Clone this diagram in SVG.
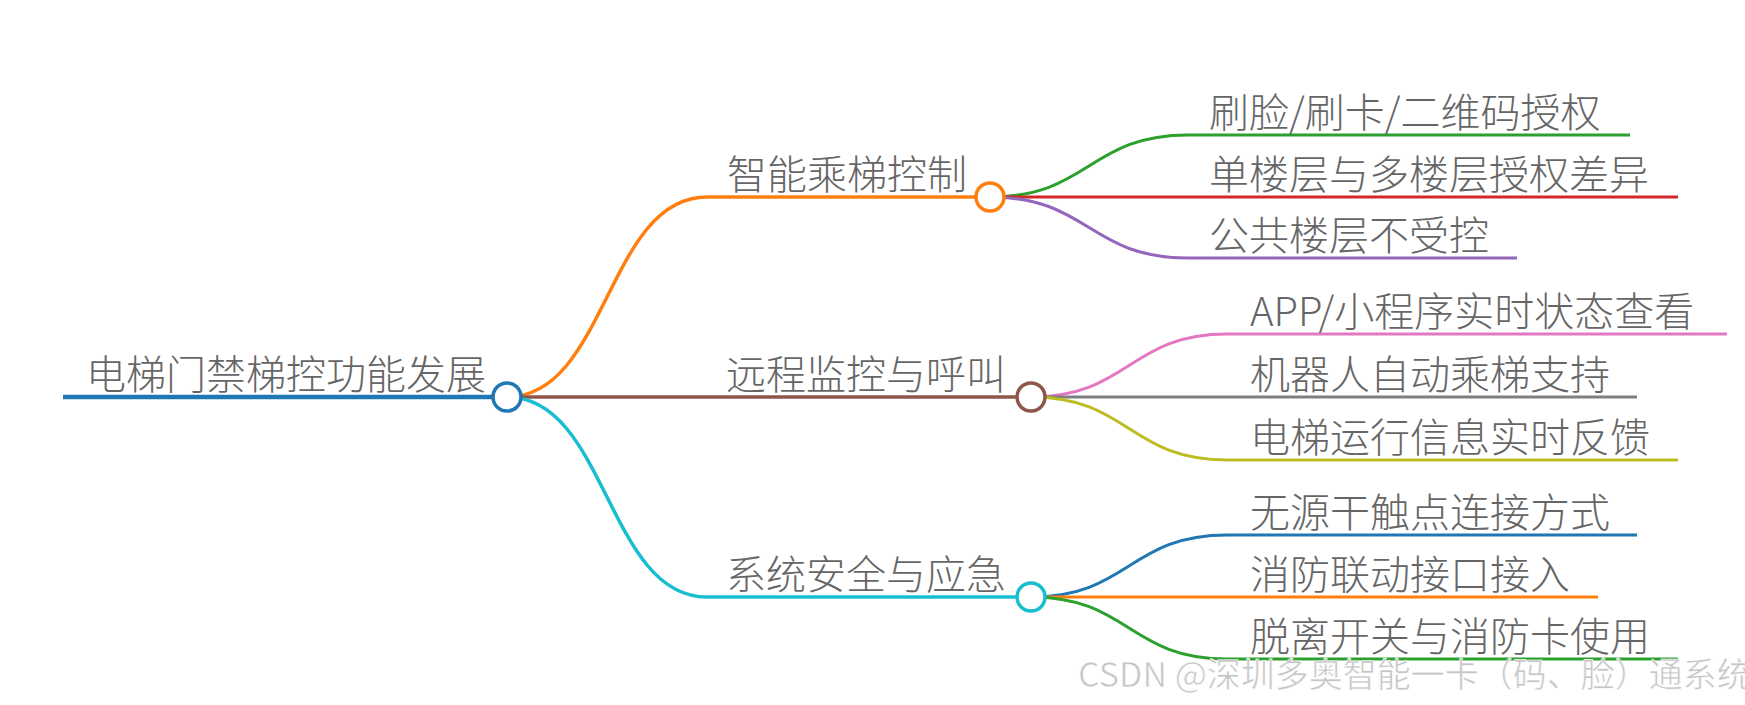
<svg xmlns="http://www.w3.org/2000/svg" width="1745" height="705" viewBox="0 0 1745 705">
<style>
.t{font-family:"Noto Sans CJK SC","Noto Sans",sans-serif;font-size:40px;font-weight:300;fill:#666}
.wm{font-family:"Noto Sans CJK SC","Noto Sans",sans-serif;font-size:34px;fill:#c6c6c6;stroke:#fff;stroke-width:0.6}
path,line{fill:none}
.l1{stroke-width:3.5}
.l2{stroke-width:3}
circle{fill:#fff;stroke-width:3.5}
</style>
<rect width="1745" height="705" fill="#fff"/>
<g id="connectors">
<path class="l1" stroke="#ff7f0e" d="M507,397 C607,397 607,197 707,197"/>
<path class="l1" stroke="#8c564b" d="M507,397 L707,397"/>
<path class="l1" stroke="#17becf" d="M507,397 C607,397 607,597 707,597"/>
<path class="l2" stroke="#2ca02c" d="M990,197 C1089,197 1089,135 1188,135"/>
<path class="l2" stroke="#d62728" d="M990,197 L1188,197"/>
<path class="l2" stroke="#9467bd" d="M990,197 C1089,197 1089,258 1188,258"/>
<path class="l2" stroke="#e377c2" d="M1031,397 C1129,397 1129,334 1227,334"/>
<path class="l2" stroke="#7f7f7f" d="M1031,397 L1227,397"/>
<path class="l2" stroke="#bcbd22" d="M1031,397 C1129,397 1129,460 1227,460"/>
<path class="l2" stroke="#1f77b4" d="M1031,597 C1129,597 1129,535 1227,535"/>
<path class="l2" stroke="#ff7f0e" d="M1031,597 L1227,597"/>
<path class="l2" stroke="#2ca02c" d="M1031,597 C1129,597 1129,659 1227,659"/>
</g>
<g id="node-root">
<line x1="63" y1="397" x2="507" y2="397" stroke="#1f77b4" stroke-width="4.5"/>
<text class="t" x="86" y="389">电梯门禁梯控功能发展</text>
<circle cx="507" cy="397" r="14" stroke="#1f77b4"/>
</g>
<g id="node-a">
<line class="l1" x1="707" y1="197" x2="990" y2="197" stroke="#ff7f0e"/>
<text class="t" x="727" y="189">智能乘梯控制</text>
<circle cx="990" cy="197" r="14" stroke="#ff7f0e"/>
</g>
<g id="node-b">
<line class="l1" x1="707" y1="397" x2="1031" y2="397" stroke="#8c564b"/>
<text class="t" x="726" y="389">远程监控与呼叫</text>
<circle cx="1031" cy="397" r="14" stroke="#8c564b"/>
</g>
<g id="node-c">
<line class="l1" x1="707" y1="597" x2="1031" y2="597" stroke="#17becf"/>
<text class="t" x="726" y="589">系统安全与应急</text>
<circle cx="1031" cy="597" r="14" stroke="#17becf"/>
</g>
<g id="node-a1">
<line class="l2" x1="1188" y1="135" x2="1630" y2="135" stroke="#2ca02c"/>
<text class="t" x="1209" y="127">刷脸/刷卡/二维码授权</text>
</g>
<g id="node-a2">
<line class="l2" x1="1188" y1="197" x2="1678" y2="197" stroke="#d62728"/>
<text class="t" x="1209" y="189">单楼层与多楼层授权差异</text>
</g>
<g id="node-a3">
<line class="l2" x1="1188" y1="258" x2="1517" y2="258" stroke="#9467bd"/>
<text class="t" x="1209" y="250">公共楼层不受控</text>
</g>
<g id="node-b1">
<line class="l2" x1="1227" y1="334" x2="1727" y2="334" stroke="#e377c2"/>
<text class="t" x="1250" y="326">APP/小程序实时状态查看</text>
</g>
<g id="node-b2">
<line class="l2" x1="1227" y1="397" x2="1637" y2="397" stroke="#7f7f7f"/>
<text class="t" x="1250" y="389">机器人自动乘梯支持</text>
</g>
<g id="node-b3">
<line class="l2" x1="1227" y1="460" x2="1678" y2="460" stroke="#bcbd22"/>
<text class="t" x="1250" y="452">电梯运行信息实时反馈</text>
</g>
<g id="node-c1">
<line class="l2" x1="1227" y1="535" x2="1637" y2="535" stroke="#1f77b4"/>
<text class="t" x="1250" y="527">无源干触点连接方式</text>
</g>
<g id="node-c2">
<line class="l2" x1="1227" y1="597" x2="1598" y2="597" stroke="#ff7f0e"/>
<text class="t" x="1250" y="589">消防联动接口接入</text>
</g>
<g id="node-c3">
<line class="l2" x1="1227" y1="659" x2="1678" y2="659" stroke="#2ca02c"/>
<text class="t" x="1250" y="651">脱离开关与消防卡使用</text>
</g>
<text class="wm" x="1078" y="687">CSDN @深圳多奥智能一卡（码、脸）通系统</text>
</svg>
